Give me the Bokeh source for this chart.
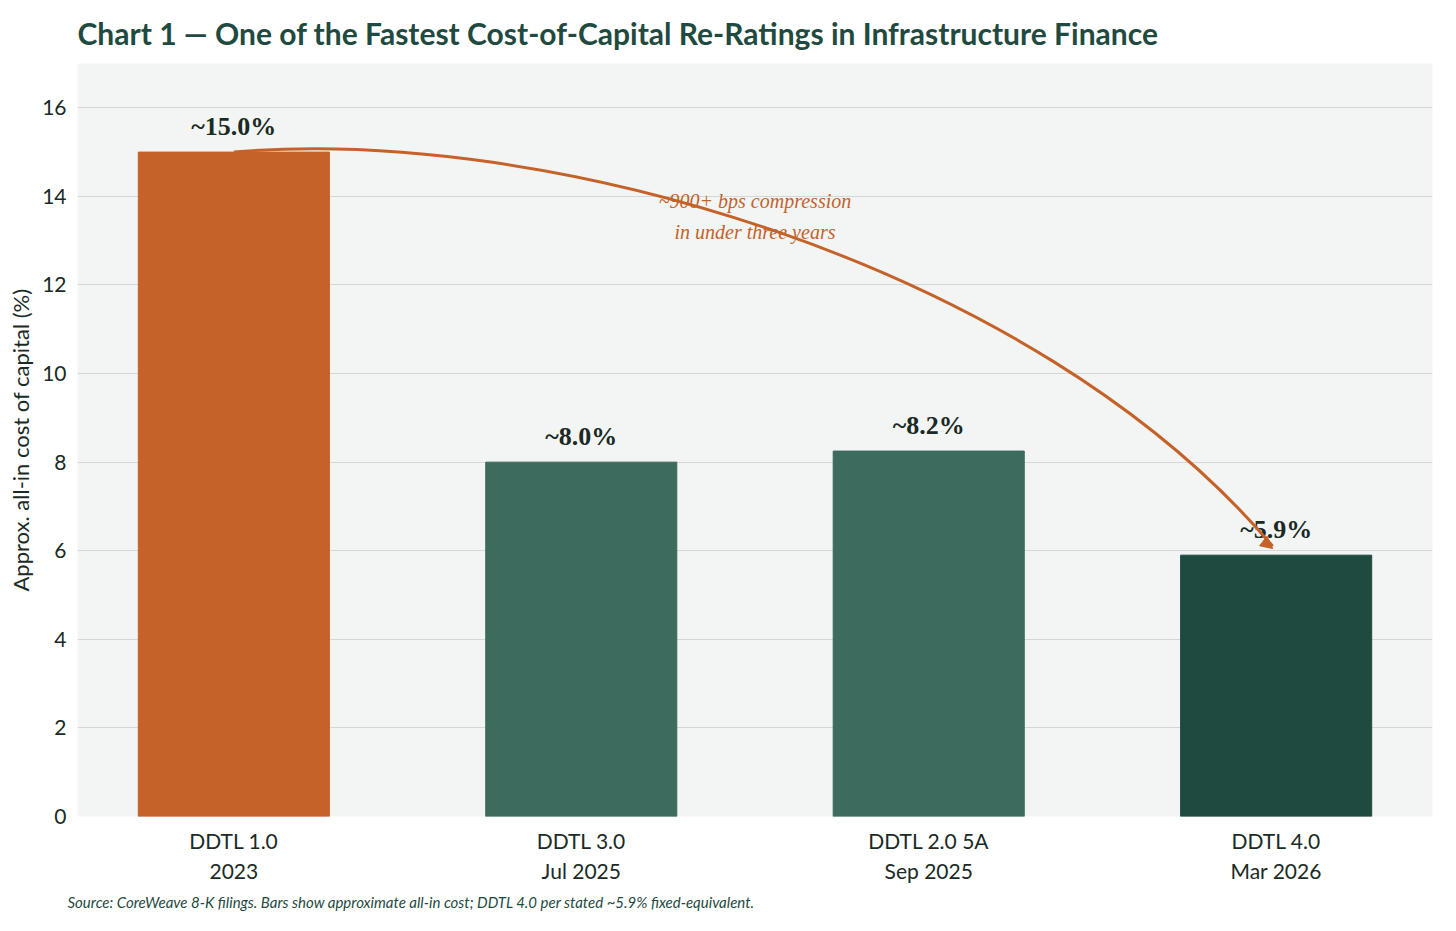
from bokeh.plotting import figure
from bokeh.models import Title, Label, Arrow, NormalHead, FixedTicker, ColumnDataSource
from bokeh.embed import file_html
from bokeh.resources import INLINE

cats = ["DDTL 1.0\n2023", "DDTL 3.0\nJul 2025", "DDTL 2.0 5A\nSep 2025", "DDTL 4.0\nMar 2026"]
vals = [15.0, 8.0, 8.25, 5.9]
labels = ["~15.0%", "~8.0%", "~8.2%", "~5.9%"]
colors = ["#C4622A", "#3D6B5E", "#3D6B5E", "#1F4A3F"]
xs = list(range(len(cats)))
FONT = "Lato"

p = figure(width=1440, height=915, x_range=(-0.45, 3.45), y_range=(0, 17),
           output_backend="svg", toolbar_location=None,
           min_border_left=77, min_border_right=8, min_border_top=10, min_border_bottom=10)
p.background_fill_color = "#F3F5F4"
p.border_fill_color = "white"
p.outline_line_color = None

src = ColumnDataSource(dict(x=xs, top=vals, color=colors, lab=labels, ly=[v + 0.25 for v in vals]))
p.vbar(x="x", top="top", width=0.55, color="color", source=src)
p.text(x="x", y="ly", text="lab", source=src, text_align="center", text_baseline="bottom",
       text_font=FONT, text_font_style="bold", text_font_size="26px", text_color="#1A2A25")

# curved arrow
p.bezier(x0=[0.0], y0=[15.0], x1=[2.99], y1=[6.1], cx0=[0.9], cy0=[15.6], cx1=[2.3], cy1=[12.5],
         line_color="#C4622A", line_width=3)
p.add_layout(Arrow(end=NormalHead(size=12, fill_color="#C4622A", line_color="#C4622A"),
                   x_start=2.95, y_start=6.3, x_end=2.99, y_end=6.05, line_alpha=0))
p.text(x=[1.5, 1.5], y=[13.9, 13.2], text=["~900+ bps compression", "in under three years"],
       text_align="center", text_baseline="middle", text_font=FONT, text_font_style="italic",
       text_font_size="20px", text_color="#C4622A")

p.xaxis.ticker = FixedTicker(ticks=xs)
p.xaxis.major_label_overrides = {i: c for i, c in enumerate(cats)}
p.yaxis.ticker = FixedTicker(ticks=list(range(0, 17, 2)))
for ax in (p.xaxis, p.yaxis):
    ax.axis_line_color = None
    ax.major_tick_line_color = None
    ax.minor_tick_line_color = None
    ax.major_label_text_font = FONT
    ax.major_label_text_font_size = "21px"
    ax.major_label_text_color = "#1A2A25"
p.yaxis.axis_label = "Approx. all-in cost of capital (%)"
p.yaxis.axis_label_text_font = FONT
p.yaxis.axis_label_text_font_style = "normal"
p.yaxis.axis_label_text_font_size = "22px"
p.yaxis.axis_label_text_color = "#1A2A25"
p.xgrid.grid_line_color = None
p.ygrid.grid_line_color = "#D3D8D6"
p.ygrid.grid_line_width = 1.2

p.add_layout(Title(text="Source: CoreWeave 8-K filings. Bars show approximate all-in cost; DDTL 4.0 per stated ~5.9% fixed-equivalent.",
                   text_font=FONT, text_font_style="italic", text_font_size="15px",
                   text_color="#1F4A3F", align="left", offset=-10), "below")
p.add_layout(Title(text="Chart 1 — One of the Fastest Cost-of-Capital Re-Ratings in Infrastructure Finance",
                   text_font=FONT, text_font_style="bold", text_font_size="30px",
                   text_color="#1F4A3F", align="left", offset=0, standoff=25), "above")

open("out.html", "w").write(file_html(p, INLINE))
